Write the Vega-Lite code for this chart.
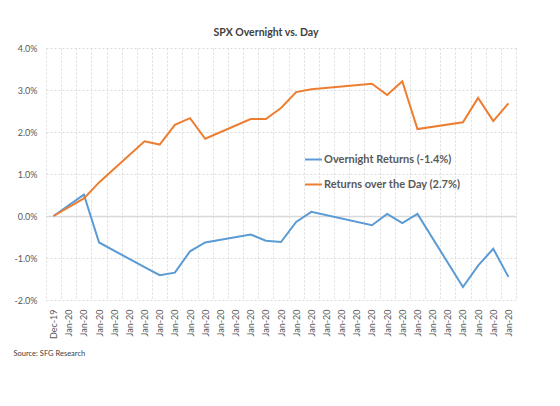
{
  "$schema": "https://vega.github.io/schema/vega-lite/v6.json",
  "width": 470,
  "height": 252,
  "autosize": {"type": "none"},
  "padding": {"left": 46, "top": 48, "right": 44, "bottom": 106},
  "background": "white",
  "config": {
    "font": "Lato",
    "view": {"stroke": null}
  },
  "title": {
    "text": "SPX Overnight vs. Day",
    "fontSize": 10.5,
    "fontWeight": "bold",
    "color": "#404040",
    "anchor": "middle",
    "dx": -15,
    "offset": 6
  },
  "data": {
    "values": [
      {"date": "2019-12-31", "series": "Overnight Returns (-1.4%)", "value": 0.0},
      {"date": "2020-01-02", "series": "Overnight Returns (-1.4%)", "value": 0.0051},
      {"date": "2020-01-03", "series": "Overnight Returns (-1.4%)", "value": -0.0063},
      {"date": "2020-01-06", "series": "Overnight Returns (-1.4%)", "value": -0.0122},
      {"date": "2020-01-07", "series": "Overnight Returns (-1.4%)", "value": -0.0141},
      {"date": "2020-01-08", "series": "Overnight Returns (-1.4%)", "value": -0.0135},
      {"date": "2020-01-09", "series": "Overnight Returns (-1.4%)", "value": -0.0084},
      {"date": "2020-01-10", "series": "Overnight Returns (-1.4%)", "value": -0.0063},
      {"date": "2020-01-13", "series": "Overnight Returns (-1.4%)", "value": -0.0044},
      {"date": "2020-01-14", "series": "Overnight Returns (-1.4%)", "value": -0.0059},
      {"date": "2020-01-15", "series": "Overnight Returns (-1.4%)", "value": -0.0062},
      {"date": "2020-01-16", "series": "Overnight Returns (-1.4%)", "value": -0.0014},
      {"date": "2020-01-17", "series": "Overnight Returns (-1.4%)", "value": 0.0010},
      {"date": "2020-01-21", "series": "Overnight Returns (-1.4%)", "value": -0.0022},
      {"date": "2020-01-22", "series": "Overnight Returns (-1.4%)", "value": 0.0005},
      {"date": "2020-01-23", "series": "Overnight Returns (-1.4%)", "value": -0.0017},
      {"date": "2020-01-24", "series": "Overnight Returns (-1.4%)", "value": 0.0005},
      {"date": "2020-01-27", "series": "Overnight Returns (-1.4%)", "value": -0.0169},
      {"date": "2020-01-28", "series": "Overnight Returns (-1.4%)", "value": -0.0118},
      {"date": "2020-01-29", "series": "Overnight Returns (-1.4%)", "value": -0.0078},
      {"date": "2020-01-30", "series": "Overnight Returns (-1.4%)", "value": -0.0145},
      {"date": "2019-12-31", "series": "Returns over the Day (2.7%)", "value": 0.0},
      {"date": "2020-01-02", "series": "Returns over the Day (2.7%)", "value": 0.0042},
      {"date": "2020-01-03", "series": "Returns over the Day (2.7%)", "value": 0.0080},
      {"date": "2020-01-06", "series": "Returns over the Day (2.7%)", "value": 0.0178},
      {"date": "2020-01-07", "series": "Returns over the Day (2.7%)", "value": 0.0170},
      {"date": "2020-01-08", "series": "Returns over the Day (2.7%)", "value": 0.0217},
      {"date": "2020-01-09", "series": "Returns over the Day (2.7%)", "value": 0.0233},
      {"date": "2020-01-10", "series": "Returns over the Day (2.7%)", "value": 0.0184},
      {"date": "2020-01-13", "series": "Returns over the Day (2.7%)", "value": 0.0231},
      {"date": "2020-01-14", "series": "Returns over the Day (2.7%)", "value": 0.0231},
      {"date": "2020-01-15", "series": "Returns over the Day (2.7%)", "value": 0.0257},
      {"date": "2020-01-16", "series": "Returns over the Day (2.7%)", "value": 0.0295},
      {"date": "2020-01-17", "series": "Returns over the Day (2.7%)", "value": 0.0302},
      {"date": "2020-01-21", "series": "Returns over the Day (2.7%)", "value": 0.0315},
      {"date": "2020-01-22", "series": "Returns over the Day (2.7%)", "value": 0.0288},
      {"date": "2020-01-23", "series": "Returns over the Day (2.7%)", "value": 0.0321},
      {"date": "2020-01-24", "series": "Returns over the Day (2.7%)", "value": 0.0207},
      {"date": "2020-01-27", "series": "Returns over the Day (2.7%)", "value": 0.0223},
      {"date": "2020-01-28", "series": "Returns over the Day (2.7%)", "value": 0.0281},
      {"date": "2020-01-29", "series": "Returns over the Day (2.7%)", "value": 0.0226},
      {"date": "2020-01-30", "series": "Returns over the Day (2.7%)", "value": 0.0268}
    ]
  },
  "mark": {"type": "line", "strokeWidth": 2},
  "encoding": {
    "x": {
      "field": "date",
      "type": "ordinal",
      "bandPosition": 0.5,
      "scale": {
        "type": "band",
        "paddingInner": 0,
        "paddingOuter": 0,
        "domain": ["2019-12-31", "2020-01-01", "2020-01-02", "2020-01-03", "2020-01-04", "2020-01-05", "2020-01-06", "2020-01-07", "2020-01-08", "2020-01-09", "2020-01-10", "2020-01-11", "2020-01-12", "2020-01-13", "2020-01-14", "2020-01-15", "2020-01-16", "2020-01-17", "2020-01-18", "2020-01-19", "2020-01-20", "2020-01-21", "2020-01-22", "2020-01-23", "2020-01-24", "2020-01-25", "2020-01-26", "2020-01-27", "2020-01-28", "2020-01-29", "2020-01-30"]
      },
      "axis": {
        "labelExpr": "datum.value == null ? '' : utcFormat(toDate(datum.value), '%b-%y')",
        "labelAngle": 270,
        "labelFontSize": 9,
        "labelColor": "#595959",
        "labelPadding": 9,
        "labelOverlap": false,
        "ticks": false,
        "domain": false,
        "tickBand": "extent",
        "grid": true,
        "gridColor": "#dcdcdc",
        "gridDash": [2, 2],
        "gridWidth": 1,
        "title": "Source: SFG Research",
        "titleFontSize": 7.5,
        "titleFontWeight": "normal",
        "titleColor": "#404040",
        "titleAlign": "left",
        "titleBaseline": "middle",
        "titleAngle": 0,
        "titleX": -33,
        "titleY": 53
      }
    },
    "y": {
      "field": "value",
      "type": "quantitative",
      "scale": {"domain": [-0.02, 0.04], "nice": false, "zero": false},
      "axis": {
        "values": [-0.02, -0.01, 0, 0.01, 0.02, 0.03, 0.04],
        "format": ".1%",
        "labelExpr": "replace(datum.label, '\u2212', '-')",
        "labelFontSize": 9,
        "labelColor": "#595959",
        "labelPadding": 9,
        "ticks": false,
        "domain": false,
        "title": null,
        "grid": true,
        "gridColor": {"condition": {"test": "datum.value === 0", "value": "#d9d9d9"}, "value": "#dcdcdc"},
        "gridDash": {"condition": {"test": "datum.value === 0", "value": []}, "value": [2, 2]},
        "gridWidth": {"condition": {"test": "datum.value === 0", "value": 1.5}, "value": 1}
      }
    },
    "color": {
      "field": "series",
      "type": "nominal",
      "scale": {
        "domain": ["Overnight Returns (-1.4%)", "Returns over the Day (2.7%)"],
        "range": ["#5B9BD5", "#ED7D31"]
      },
      "legend": {
        "orient": "none",
        "legendX": 258,
        "legendY": 102,
        "title": null,
        "symbolType": "stroke",
        "symbolSize": 289,
        "symbolStrokeWidth": 2,
        "labelFontSize": 11,
        "labelFontWeight": "bold",
        "labelColor": "#595959",
        "labelOffset": 1,
        "rowPadding": 10
      }
    }
  }
}
